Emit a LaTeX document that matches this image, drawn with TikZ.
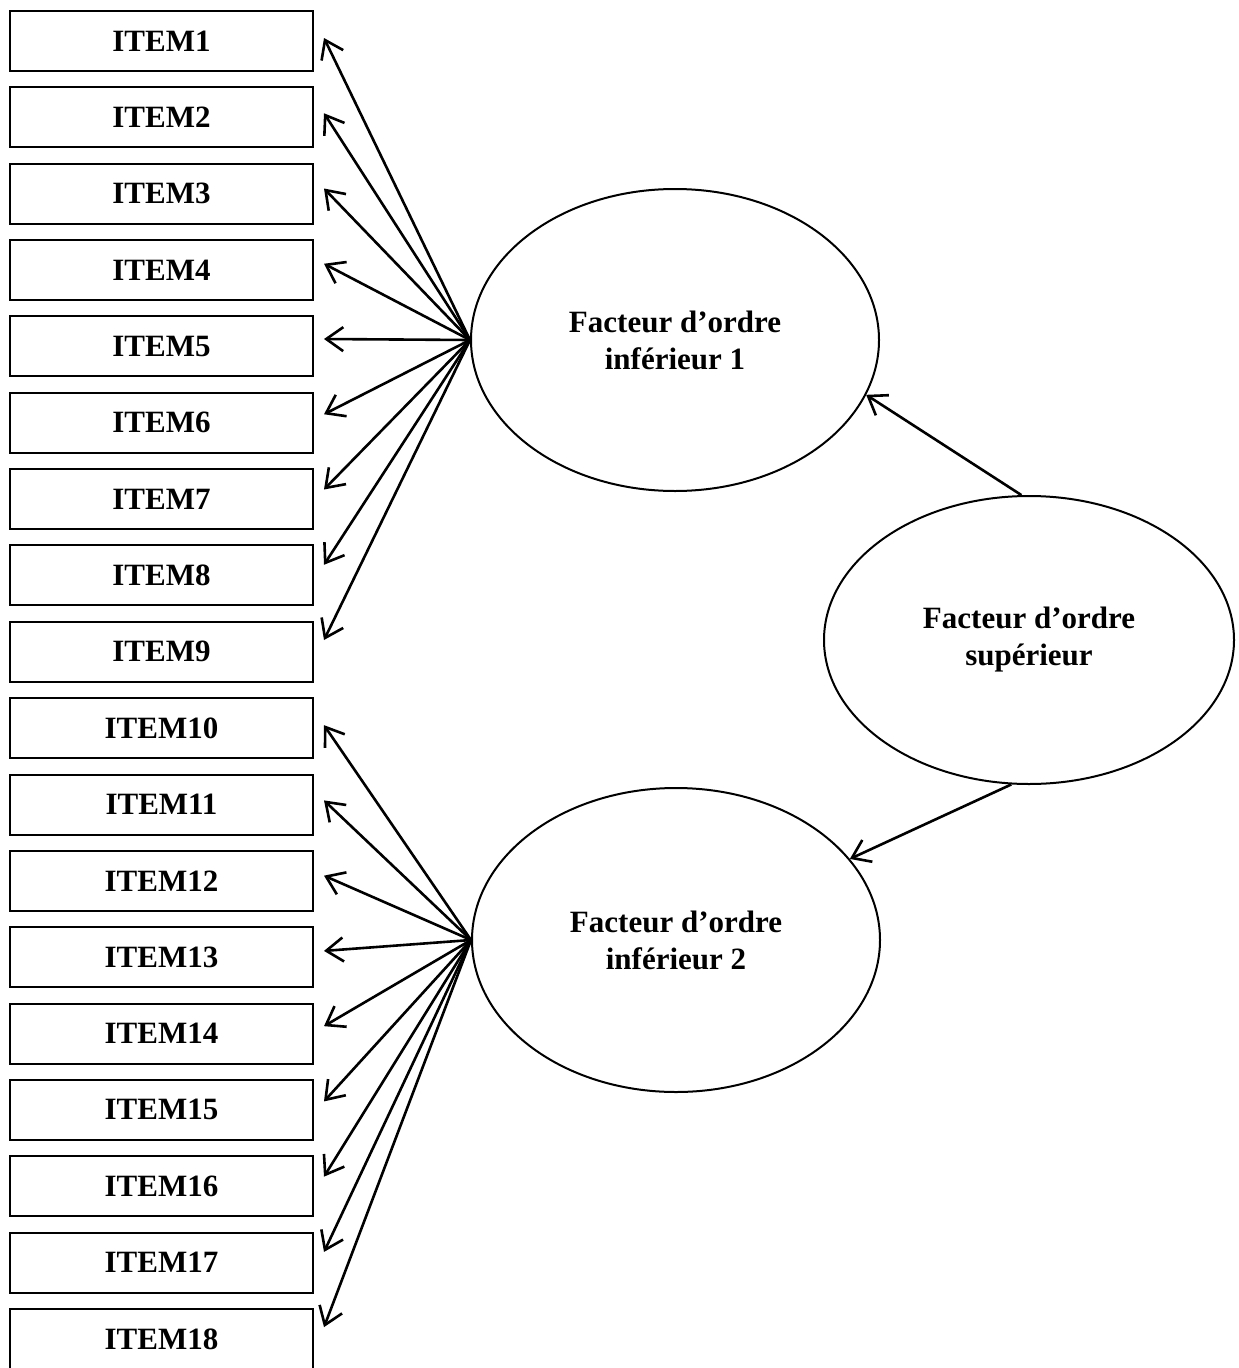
\documentclass[tikz,border=0pt]{standalone}
\usepackage{fontspec}
\setmainfont{Liberation Serif}
\usetikzlibrary{shapes.geometric,arrows.meta}

\tikzset{
  itembox/.style={draw, line width=2pt, minimum width=303pt, minimum height=60pt, inner sep=0pt,
    font=\bfseries\fontsize{31}{37}\selectfont},
  facteur/.style={draw, ellipse, line width=2pt, inner sep=0pt, align=center,
    font=\bfseries\fontsize{31}{37}\selectfont},
  load/.style={line width=2.6pt, -{Straight Barb[length=17pt,width=24pt,line width=2.6pt]}},
}

\begin{document}
\begin{tikzpicture}[x=1pt,y=-1pt]
\useasboundingbox (0,0) rectangle (1239,1368);
% items
\foreach \i in {1,...,18}
  \node[itembox] (item\i) at (161.5,{41+(\i-1)*76.35}) {ITEM\i};
% facteurs
\node[facteur, minimum width=408pt, minimum height=302pt] (f1) at (675,340) {Facteur d'ordre\\inférieur 1};
\node[facteur, minimum width=408pt, minimum height=304pt] (f2) at (676,940) {Facteur d'ordre\\inférieur 2};
\node[facteur, minimum width=410pt, minimum height=288pt] (fs) at (1029,640) {Facteur d'ordre\\supérieur};
% saturations
\foreach \i in {1,...,9}
  \draw[load] (f1.west) -- ([xshift=10pt,yshift={3pt+(\i-1)*1.1pt}]item\i.east);
\foreach \i in {10,...,18}
  \draw[load] (f2.west) -- ([xshift=10pt,yshift={3pt+(\i-10)*1.1pt}]item\i.east);
\draw[load] (fs.93) -- (f1.-16);
\draw[load] (fs.-97) -- (f2.25);
\end{tikzpicture}
\end{document}
